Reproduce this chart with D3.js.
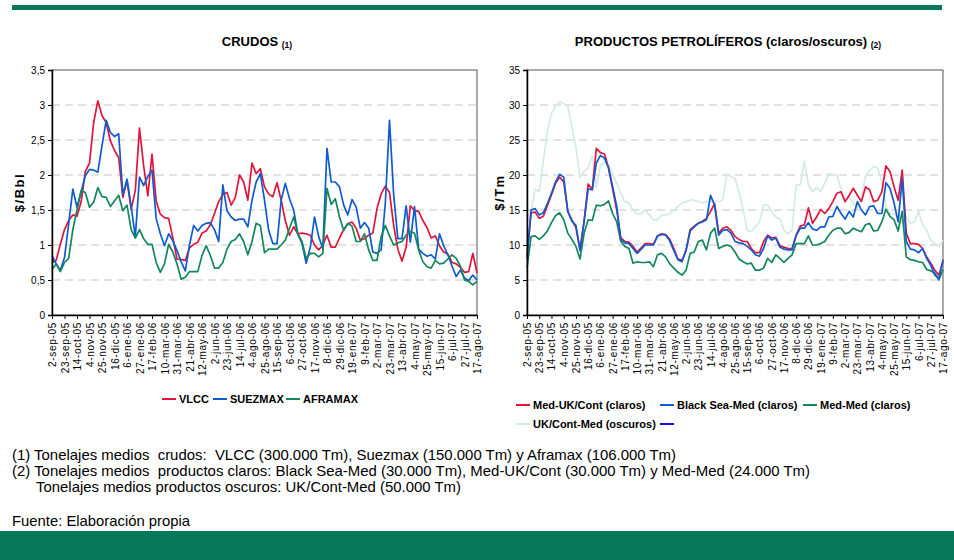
<!DOCTYPE html>
<html>
<head>
<meta charset="utf-8">
<script src="https://cdn.jsdelivr.net/npm/d3@7/dist/d3.min.js"></script>
<style>
  body { margin: 0; background: #fff; }
  svg { display: block; font-family: Arial, "Liberation Sans", sans-serif; }
</style>
</head>
<body>
<svg id="chart" width="954" height="560"></svg>
<script>
// weekly observations, 2-sep-05 .. 17-ago-07 (103 weeks); a label every 3rd week
var tickLabels = ["2-sep-05", "23-sep-05", "14-oct-05", "4-nov-05", "25-nov-05", "16-dic-05",
  "6-ene-06", "27-ene-06", "17-feb-06", "10-mar-06", "31-mar-06", "21-abr-06", "12-may-06",
  "2-jun-06", "23-jun-06", "14-jul-06", "4-ago-06", "25-ago-06", "15-sep-06", "6-oct-06",
  "27-oct-06", "17-nov-06", "8-dic-06", "29-dic-06", "19-ene-07", "9-feb-07", "2-mar-07",
  "23-mar-07", "13-abr-07", "4-may-07", "25-may-07", "15-jun-07", "6-jul-07", "27-jul-07",
  "17-ago-07"];

// CRUDOS ($/Bbl)
var vlcc = [
  0.75, 0.78, 1.01, 1.22, 1.35, 1.43, 1.41, 1.62, 2.05, 2.17,
  2.75, 3.06, 2.85, 2.75, 2.49, 2.35, 2.25, 1.68, 1.92, 1.51,
  1.78, 2.67, 2.13, 1.70, 2.30, 1.63, 1.44, 1.39, 1.38, 1.10,
  0.80, 0.79, 0.78, 0.96, 1.01, 1.04, 1.17, 1.20, 1.29, 1.45,
  1.62, 1.72, 1.75, 1.57, 1.68, 2.00, 1.90, 1.64, 2.17, 2.02,
  2.09, 1.83, 1.73, 1.69, 1.89, 1.64, 1.35, 1.14, 1.26, 1.16,
  1.17, 1.16, 1.14, 1.00, 0.93, 1.00, 1.14, 0.97, 0.97, 1.10,
  1.22, 1.30, 1.33, 1.24, 1.07, 1.09, 1.14, 1.17, 1.52, 1.73,
  1.84, 1.75, 1.28, 0.94, 0.77, 0.97, 1.56, 1.49, 1.48, 1.35,
  1.25, 1.10, 1.13, 0.99, 0.90, 0.87, 0.75, 0.73, 0.68, 0.61,
  0.62, 0.88, 0.60];
var suezmax = [
  0.85, 0.73, 0.64, 0.82, 1.30, 1.80, 1.54, 1.76, 1.99, 2.08,
  2.07, 2.04, 2.42, 2.78, 2.61, 2.55, 2.59, 1.72, 1.94, 1.55,
  1.12, 1.97, 1.85, 1.98, 2.07, 1.38, 1.16, 0.99, 1.16, 1.06,
  0.92, 0.76, 0.63, 1.00, 1.28, 1.20, 1.28, 1.31, 1.32, 1.22,
  1.05, 1.86, 1.49, 1.40, 1.35, 1.37, 1.37, 1.26, 1.64, 1.90,
  2.02, 1.64, 1.21, 1.02, 1.02, 1.64, 1.88, 1.66, 1.50, 1.16,
  1.02, 0.74, 0.97, 1.40, 1.12, 0.95, 2.38, 1.90, 1.90, 1.83,
  1.57, 1.43, 1.65, 1.54, 1.24, 1.32, 1.24, 0.90, 0.88, 0.93,
  1.60, 2.78, 1.72, 1.09, 1.09, 1.56, 1.04, 1.55, 0.94, 0.88,
  0.84, 0.86, 0.80, 1.16, 0.99, 0.86, 0.70, 0.55, 0.64, 0.53,
  0.49, 0.57, 0.50];
var aframax = [
  0.65, 0.73, 0.62, 0.75, 0.81, 1.22, 1.50, 1.78, 1.75, 1.54,
  1.61, 1.82, 1.69, 1.68, 1.55, 1.63, 1.71, 1.49, 1.57, 1.22,
  1.10, 1.22, 1.09, 1.01, 1.01, 0.75, 0.61, 0.73, 1.01, 0.90,
  0.73, 0.51, 0.54, 0.62, 0.62, 0.62, 0.85, 0.99, 0.85, 0.67,
  0.67, 0.75, 0.94, 1.05, 1.08, 1.16, 1.05, 0.86, 1.05, 1.31,
  1.28, 0.89, 0.94, 0.94, 0.94, 1.00, 1.07, 1.24, 1.40, 1.16,
  1.05, 0.81, 0.88, 0.88, 0.83, 0.88, 1.81, 1.58, 1.66, 1.40,
  1.21, 1.31, 1.27, 1.05, 1.05, 1.16, 0.93, 0.78, 0.78, 1.12,
  1.28, 1.13, 1.00, 1.03, 1.05, 1.14, 1.19, 1.17, 0.93, 0.76,
  0.69, 0.67, 0.78, 0.73, 0.74, 0.80, 0.86, 0.81, 0.70, 0.50,
  0.48, 0.43, 0.48];

// PRODUCTOS PETROLIFEROS ($/Tm)
var medUkCont = [
  8.3, 14.6, 14.7, 13.8, 14.1, 15.6, 17.2, 18.8, 19.7, 19.0,
  14.8, 13.6, 12.5, 9.3, 13.5, 18.7, 17.9, 23.8, 23.2, 23.0,
  21.0, 18.0, 15.0, 11.0, 10.5, 10.4, 9.8, 9.0, 9.6, 10.2,
  10.2, 10.1, 11.3, 11.6, 11.5, 10.8, 9.5, 8.0, 7.8, 9.2,
  12.2, 12.7, 13.1, 13.4, 13.8, 14.8, 15.9, 11.7, 12.4, 12.6,
  12.1, 11.2, 10.8, 10.5, 10.5, 9.5, 8.9, 8.9, 10.5, 11.4,
  11.0, 11.1, 9.9, 9.7, 9.5, 9.5, 11.4, 12.7, 12.9, 15.3,
  13.1, 14.0, 15.1, 14.5, 15.2, 16.2, 17.4, 17.6, 16.2, 17.1,
  18.1, 17.1, 16.2, 18.3, 17.9, 16.2, 16.4, 17.6, 21.3, 20.5,
  18.3, 16.4, 20.7, 11.7, 10.2, 10.2, 10.1, 9.5, 8.3, 7.4,
  6.4, 5.7, 7.6];
var blackSeaMed = [
  8.0, 15.0, 15.2, 14.3, 14.6, 15.9, 17.4, 19.0, 20.1, 19.7,
  14.8, 13.4, 12.8, 9.2, 13.3, 18.0, 17.9, 21.7, 22.8, 22.4,
  21.0, 18.3, 15.5, 10.8, 10.3, 10.2, 9.5, 8.8, 9.4, 10.0,
  10.0, 10.0, 11.3, 11.5, 11.4, 10.6, 9.2, 7.9, 7.6, 9.3,
  12.0, 12.6, 13.1, 13.3, 13.6, 17.1, 15.7, 11.4, 12.1, 12.2,
  11.7, 10.5, 10.3, 10.2, 9.8, 9.3, 8.6, 8.4, 9.5, 11.3,
  10.7, 11.0, 9.7, 9.4, 9.3, 9.3, 11.4, 12.4, 12.4, 13.2,
  12.3, 12.1, 12.6, 12.6, 14.0, 14.1, 15.5, 14.5, 13.7, 14.8,
  14.0, 16.2, 15.0, 14.3, 15.5, 15.6, 14.5, 14.5, 18.9, 18.1,
  16.0, 13.3, 19.5, 10.5, 9.4, 9.3, 8.9, 9.5, 8.1, 7.1,
  5.7, 5.2, 7.9];
var medMed = [
  6.7, 11.2, 11.3, 10.8, 11.3, 12.0, 13.2, 14.2, 14.6, 13.6,
  11.7, 10.8, 9.8, 8.0, 11.7, 13.6, 13.5, 15.7, 15.6, 15.8,
  16.3, 14.5, 13.3, 10.5, 9.8, 9.5, 7.4, 7.6, 7.5, 7.5,
  7.6, 6.9, 8.6, 8.8, 8.3, 7.3, 6.7, 6.1, 5.7, 6.4,
  8.8, 9.0, 10.5, 10.7, 9.3, 11.7, 12.4, 9.5, 9.8, 10.0,
  9.8, 9.0, 8.0, 7.6, 7.3, 7.4, 6.4, 6.4, 6.7, 8.1,
  7.5, 8.6, 8.1, 7.5, 8.1, 8.6, 10.2, 10.2, 10.2, 11.3,
  10.0, 10.0, 10.2, 10.5, 11.4, 12.1, 12.4, 12.4, 11.6, 11.8,
  12.4, 12.1, 11.9, 12.9, 13.1, 12.0, 12.1, 13.3, 15.1, 14.1,
  13.6, 12.0, 14.8, 8.3, 7.9, 7.8, 7.6, 7.5, 6.5, 6.3,
  6.0, 5.0, 6.5];
var ukContMed = [
  14.0, 14.8, 18.0, 17.6, 22.0, 26.2, 28.8, 29.8, 30.5, 30.2,
  29.8, 26.9, 24.0, 19.6, 20.5, 21.0, 22.7, 18.3, 21.4, 21.8,
  21.4, 20.2, 18.8, 17.4, 16.2, 16.0, 15.0, 14.4, 14.5, 15.0,
  14.3, 13.6, 13.6, 14.3, 14.3, 14.5, 15.0, 15.5, 16.0, 16.2,
  16.4, 16.4, 16.2, 16.0, 16.2, 16.2, 16.2, 16.2, 16.4, 20.1,
  19.8, 19.5, 17.5, 15.0, 12.1, 11.9, 12.6, 13.3, 15.7, 15.7,
  14.8, 14.0, 13.8, 12.1, 11.6, 12.1, 18.6, 18.6, 21.9, 18.6,
  17.6, 18.2, 17.6, 18.8, 20.2, 20.0, 20.0, 17.9, 16.2, 16.9,
  16.0, 15.2, 16.9, 19.8, 20.7, 21.2, 21.0, 19.0, 15.5, 14.5,
  14.5, 14.0, 13.3, 14.0, 13.1, 13.3, 14.8, 12.9, 12.1, 10.7,
  10.2, 9.8, 10.7];

var notes = [
  { text: "(1) Tonelajes medios  crudos:  VLCC (300.000 Tm), Suezmax (150.000 Tm) y Aframax (106.000 Tm)", x: 12, width: 664 },
  { text: "(2) Tonelajes medios  productos claros: Black Sea-Med (30.000 Tm), Med-UK/Cont (30.000 Tm) y Med-Med (24.000 Tm)", x: 12, width: 798 },
  { text: "Tonelajes medios productos oscuros: UK/Cont-Med (50.000 Tm)", x: 36, width: 425 }
];

var GREEN_BAR = "#07795a";
var RED = "#e0153d", BLUE = "#0f5bd0", GREEN = "#12875a", MINT = "#d3ebe4";

var svg = d3.select("#chart");

svg.append("rect").attr("x", 12).attr("y", 5).attr("width", 930).attr("height", 5).attr("fill", GREEN_BAR);
svg.append("rect").attr("x", 0).attr("y", 531).attr("width", 954).attr("height", 29).attr("fill", GREEN_BAR);

function comma(v) { return String(v).replace(".", ","); }

function panel(cfg) {
  var g = svg.append("g");
  var n = cfg.series[0].values.length;
  var x = d3.scaleLinear().domain([0, n - 1]).range([cfg.left, cfg.right]);
  var y = d3.scaleLinear().domain([0, cfg.yMax]).range([cfg.bottom, cfg.top]);
  var yTicks = d3.range(0, cfg.yMax + cfg.yStep / 2, cfg.yStep);

  // dashed grid
  g.selectAll("line.grid").data(yTicks.filter(function (d) { return d > 0 && d < cfg.yMax; }))
    .join("line").attr("class", "grid")
    .attr("x1", cfg.left).attr("x2", cfg.right)
    .attr("y1", function (d) { return y(d); }).attr("y2", function (d) { return y(d); })
    .attr("stroke", "#c4c4c4").attr("stroke-width", 1).attr("stroke-dasharray", "8,5");

  // plot frame
  g.append("rect").attr("x", cfg.left).attr("y", cfg.top)
    .attr("width", cfg.right - cfg.left).attr("height", cfg.bottom - cfg.top)
    .attr("fill", "none").attr("stroke", "#555").attr("stroke-width", 1);

  // lines
  var line = d3.line().x(function (d, i) { return x(i); }).y(function (d) { return y(d); });
  cfg.series.forEach(function (s) {
    g.append("path").datum(s.values).attr("d", line)
      .attr("fill", "none").attr("stroke", s.color).attr("stroke-width", 1.7)
      .attr("stroke-linejoin", "round");
  });

  // y axis
  var yAxis = g.append("g").attr("transform", "translate(" + cfg.left + ",0)")
    .call(d3.axisLeft(y).tickValues(yTicks).tickSize(4).tickPadding(3).tickFormat(comma));
  yAxis.select(".domain").attr("stroke", "#000").attr("stroke-width", 1.5);
  yAxis.selectAll(".tick line").attr("stroke", "#000");
  yAxis.selectAll("text").attr("font-size", 10).attr("fill", "#000").attr("font-family", "Arial, 'Liberation Sans', sans-serif");

  // x axis: tick every 3rd week, label rotated
  var xTicks = d3.range(0, n, 3);
  var xAxis = g.append("g").attr("transform", "translate(0," + cfg.bottom + ")")
    .call(d3.axisBottom(x).tickValues(xTicks).tickSize(4).tickSizeOuter(0)
      .tickFormat(function (d, i) { return tickLabels[i]; }));
  xAxis.select(".domain").attr("stroke", "#000").attr("stroke-width", 1.5);
  xAxis.selectAll(".tick line").attr("stroke", "#000");
  xAxis.selectAll("text")
    .attr("font-size", 10).attr("fill", "#000").attr("font-family", "Arial, 'Liberation Sans', sans-serif")
    .attr("letter-spacing", 0.7)
    .attr("text-anchor", "end").attr("dy", "0.35em")
    .attr("transform", "translate(0,4) rotate(-90)")
    .attr("x", -3).attr("y", 0);

  // y title
  g.append("text").attr("transform", "translate(" + cfg.yTitleX + "," + ((cfg.top + cfg.bottom) / 2) + ") rotate(-90)")
    .attr("text-anchor", "middle").attr("font-size", 13).attr("font-weight", "bold")
    .attr("letter-spacing", 1.5).text(cfg.yTitle);

  // title
  var t = g.append("text").attr("x", cfg.titleX).attr("y", 46).attr("text-anchor", "middle")
    .attr("font-size", 13).attr("font-weight", "bold");
  t.append("tspan").text(cfg.title + " ");
  t.append("tspan").attr("font-size", 8.5).attr("dy", 1.5).text(cfg.note);
}

panel({
  left: 52, right: 477, top: 70, bottom: 315, yMax: 3.5, yStep: 0.5,
  yTitle: "$/Bbl", yTitleX: 24, title: "CRUDOS", note: "(1)", titleX: 257,
  series: [
    { values: vlcc, color: RED },
    { values: suezmax, color: BLUE },
    { values: aframax, color: GREEN }
  ]
});

panel({
  left: 527, right: 943, top: 70, bottom: 315, yMax: 35, yStep: 5,
  yTitle: "$/Tm", yTitleX: 504, title: "PRODUCTOS PETROLÍFEROS (claros/oscuros)", note: "(2)", titleX: 728,
  series: [
    { values: ukContMed, color: MINT },
    { values: medMed, color: GREEN },
    { values: medUkCont, color: RED },
    { values: blackSeaMed, color: BLUE }
  ]
});

// legends
function legend(items) {
  items.forEach(function (it) {
    svg.append("line").attr("x1", it.x).attr("x2", it.x + 14).attr("y1", it.y).attr("y2", it.y)
      .attr("stroke", it.color).attr("stroke-width", 2);
    if (it.marker) {
      svg.append("line").attr("x1", it.x + 7).attr("x2", it.x + 7).attr("y1", it.y - 1).attr("y2", it.y + 1)
        .attr("stroke", it.color).attr("stroke-width", 1);
    }
    if (it.label) {
      svg.append("text").attr("x", it.x + 17).attr("y", it.y + 4)
        .attr("font-size", 11).attr("font-weight", "bold").text(it.label);
    }
  });
}
legend([
  { x: 162, y: 399, color: RED, label: "VLCC" },
  { x: 213, y: 399, color: BLUE, label: "SUEZMAX" },
  { x: 286, y: 399, color: GREEN, label: "AFRAMAX" }
]);
legend([
  { x: 516, y: 405, color: RED, label: "Med-UK/Cont (claros)" },
  { x: 660, y: 405, color: BLUE, label: "Black Sea-Med (claros)" },
  { x: 803, y: 405, color: GREEN, label: "Med-Med (claros)" },
  { x: 516, y: 424, color: MINT, label: "UK/Cont-Med (oscuros)" },
  { x: 660, y: 424, color: "#1010e0", marker: true }
]);

// footnotes (narrow-looking face in the original: fit each line to its measured width)
svg.selectAll("text.note").data(notes).join("text").attr("class", "note")
  .attr("x", function (d) { return d.x; }).attr("y", function (d, i) { return 460 + i * 16; })
  .attr("font-size", 14.5).attr("textLength", function (d) { return d.width; })
  .attr("lengthAdjust", "spacingAndGlyphs").style("white-space", "pre")
  .text(function (d) { return d.text; });
svg.append("text").attr("x", 12).attr("y", 526).attr("font-size", 14.5)
  .attr("textLength", 178).attr("lengthAdjust", "spacingAndGlyphs").text("Fuente: Elaboración propia");
</script>
</body>
</html>
